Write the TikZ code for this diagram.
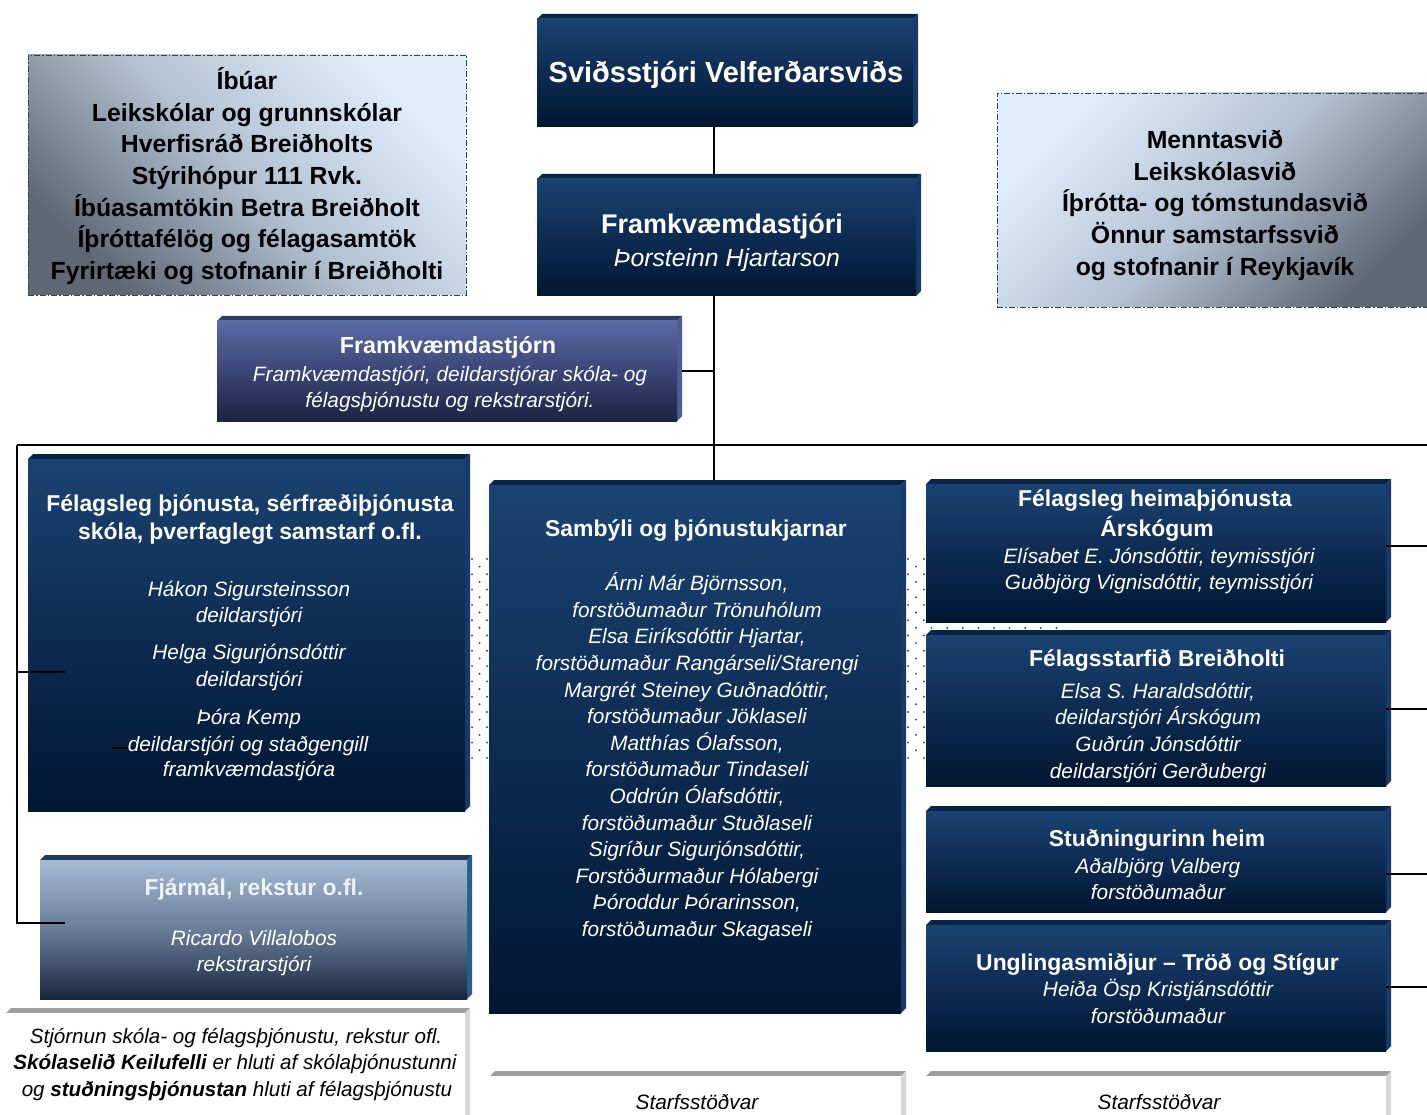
\documentclass[tikz,border=0pt]{standalone}
\usepackage{fontspec}
\setmainfont{Liberation Sans}
\definecolor{nvA}{HTML}{1A4372}
\definecolor{nvB}{HTML}{0E2B52}
\definecolor{nvC}{HTML}{001731}
\definecolor{nvT}{HTML}{0A2446}
\definecolor{nvR}{HTML}{163B6A}
\definecolor{pbA}{HTML}{5B6BA4}
\definecolor{pbB}{HTML}{3A4676}
\definecolor{pbC}{HTML}{1C2342}
\definecolor{pbT}{HTML}{2F3A66}
\definecolor{pbR}{HTML}{4C5C98}
\definecolor{gbA}{HTML}{A5BAD3}
\definecolor{gbB}{HTML}{6A7D98}
\definecolor{gbC}{HTML}{18263F}
\definecolor{gbT}{HTML}{1E3A5F}
\definecolor{gbR}{HTML}{2E5A8C}
\definecolor{grT}{HTML}{9E9E9E}
\definecolor{grR}{HTML}{D6D6D6}
\definecolor{glL}{HTML}{E0EDFC}
\definecolor{glM}{HTML}{B3C2D3}
\definecolor{glD}{HTML}{5F6773}
\definecolor{dotc}{HTML}{4A4A4A}
\definecolor{lighttxt}{HTML}{EEF3FA}
\newcommand\tln[1]{\smash{#1}\rule{0pt}{.72em}}
\newcommand\tdbox[6]{%
  \fill[#6T] (#2,#3+5) -- (#2+5,#3) -- (#4,#3) -- (#4-5,#3+5) -- cycle;
  \fill[#6R] (#4-5,#3+5) -- (#4,#3) -- (#4,#5-5) -- (#4-5,#5) -- cycle;
  \node[#6F, anchor=north west, inner sep=0pt, outer sep=0pt,
        minimum width={(#4-#2-5)*1pt}, minimum height={(#5-#3-5)*1pt}] (#1) at (#2,#3+5) {};
}
\tikzset{
  dkT/.style={fill=nvT}, dkR/.style={fill=nvR},
  dkF/.style={shade, top color=nvA, bottom color=nvC, middle color=nvB},
  fdT/.style={fill=pbT}, fdR/.style={fill=pbR},
  fdF/.style={shade, top color=pbA, bottom color=pbC, middle color=pbB},
  fjT/.style={fill=gbT}, fjR/.style={fill=gbR},
  fjF/.style={shade, top color=gbA, bottom color=gbC, middle color=gbB},
  whT/.style={fill=grT}, whR/.style={fill=grR},
  whF/.style={fill=white},
  glass/.style={draw=black!75, line width=0.9pt, dash pattern=on 6pt off 2pt on 1.5pt off 2pt,
     top color=glL, bottom color=glD, middle color=glM, anchor=north west, inner sep=0pt, outer sep=0pt},
  tx/.style={inner sep=0pt, outer sep=0pt, anchor=center},
  fB/.style={font=\bfseries\fontsize{#1}{#1}\selectfont},
  fI/.style={font=\itshape\fontsize{#1}{#1}\selectfont},
  con/.style={line width=1.4pt, black},
}
\begin{document}
\begin{tikzpicture}[x=1pt, y=-1pt]
\fill[white] (0,0) rectangle (1427,1115);
\useasboundingbox (0,0) rectangle (1427,1115);

% dotted bands
\foreach \k in {0,...,13} {
  \fill[dotc] (472,{559+15.3*\k}) circle[radius=1.1pt];
  \fill[dotc] (487,{559+15.3*\k}) circle[radius=1.1pt];
  \fill[dotc] (908,{559+15.3*\k}) circle[radius=1.1pt];
  \fill[dotc] (924,{559+15.3*\k}) circle[radius=1.1pt];
}
\foreach \k in {0,...,12} {
  \fill[dotc] (479.5,{566.6+15.3*\k}) circle[radius=1.1pt];
  \fill[dotc] (916,{566.6+15.3*\k}) circle[radius=1.1pt];
}
\foreach \k in {0,...,8} {
  \fill[dotc] ({931.6+15.6*\k},628) circle[radius=1.1pt];
}

% boxes
\tdbox{sv}{537}{14}{918}{127}{dk}
\tdbox{fr}{537}{174}{921}{296}{dk}
\tdbox{fd}{217}{316}{682}{421}{fd}
\tdbox{lb}{28}{454}{470}{811}{dk}
\tdbox{fj}{40}{855}{472}{999}{fj}
\tdbox{tb}{6}{1008}{470}{1125}{wh}
\tdbox{cb}{489}{480}{906}{1013}{dk}
\tdbox{sa}{490}{1071}{906}{1125}{wh}
\tdbox{ra}{926}{479}{1391}{622}{dk}
\tdbox{rb}{926}{630}{1391}{786}{dk}
\tdbox{rc}{926}{806}{1391}{912}{dk}
\tdbox{rd}{926}{920}{1391}{1051}{dk}
\tdbox{sb}{926}{1071}{1391}{1125}{wh}
\node[glass, shading angle=-45, minimum width=438pt, minimum height=240pt] (ib) at (28,55) {};
\node[glass, shading angle=45, minimum width=440pt, minimum height=214pt] (me) at (997,93) {};

% connectors
\coordinate (cx) at (714,0);
\coordinate (busL) at (17,445);
\coordinate (busR) at (1427,445);
\draw[con] (sv.south -| cx) -- ([yshift=5pt]fr.north -| cx);
\draw[con] (fr.south -| cx) -- ([yshift=5pt]cb.north -| cx);
\draw[con] ([xshift=5pt]fd.east) -- (fd.east -| cx);
\draw[con] (busL) -- (busR);
\coordinate (lst1) at (65,672);
\coordinate (lst2) at (65,923);
\draw[con] (busL) -- (busL |- lst2) -- (lst2);
\draw[con] (busL |- lst1) -- (lst1);
\coordinate (ws1) at (112,748);
\coordinate (ws2) at (152,748);
\draw[con] (ws1) -- (ws2);
\coordinate (rs1) at (1427,546);
\coordinate (rs2) at (1427,709);
\coordinate (rs3) at (1427,874);
\coordinate (rs4) at (1427,987);
\draw[con] (rs1 -| ra.east) -- (rs1);
\draw[con] (rs2 -| rb.east) -- (rs2);
\draw[con] (rs3 -| rc.east) -- (rs3);
\draw[con] (rs4 -| rd.east) -- (rs4);

% texts: top
\node[tx, fB=29, text=white] (sv1) at (726,72) {\tln{Sviðsstjóri Velferðarsviðs}};
\node[tx, fB=27, text=white] (fr1) at (722,224) {\tln{Framkvæmdastjóri}};
\node[tx, fI=24.8, text=white] (fr2) at (727,258) {\tln{Þorsteinn Hjartarson}};

\node[tx, fB=24.8] (ib1) at (247,80.5) {\tln{Íbúar}};
\node[tx, fB=24.8] (ib2) at (247,112.2) {\tln{Leikskólar og grunnskólar}};
\node[tx, fB=24.8] (ib3) at (247,143.9) {\tln{Hverfisráð Breiðholts}};
\node[tx, fB=24.8] (ib4) at (247,175.6) {\tln{Stýrihópur 111 Rvk.}};
\node[tx, fB=24.8] (ib5) at (247,207.3) {\tln{Íbúasamtökin Betra Breiðholt}};
\node[tx, fB=24.8] (ib6) at (247,239) {\tln{Íþróttafélög og félagasamtök}};
\node[tx, fB=24.8] (ib7) at (247,270.7) {\tln{Fyrirtæki og stofnanir í Breiðholti}};

\node[tx, fB=24.8] (me1) at (1215,139.4) {\tln{Menntasvið}};
\node[tx, fB=24.8] (me2) at (1215,171.1) {\tln{Leikskólasvið}};
\node[tx, fB=24.8] (me3) at (1215,202.8) {\tln{Íþrótta- og tómstundasvið}};
\node[tx, fB=24.8] (me4) at (1215,234.4) {\tln{Önnur samstarfssvið}};
\node[tx, fB=24.8] (me5) at (1215,266.1) {\tln{og stofnanir í Reykjavík}};

\node[tx, fB=23.3, text=white] (fd1) at (448,345) {\tln{Framkvæmdastjórn}};
\node[tx, fI=20.8, text=white] (fd2) at (450,374.2) {\tln{Framkvæmdastjóri, deildarstjórar skóla- og}};
\node[tx, fI=20.8, text=white] (fd3) at (450,399.8) {\tln{félagsþjónustu og rekstrarstjóri.}};

% left box
\node[tx, fB=22.9, text=white] (lb1) at (250,502.8) {\tln{Félagsleg þjónusta, sérfræðiþjónusta}};
\node[tx, fB=22.9, text=white] (lb2) at (250,531) {\tln{skóla, þverfaglegt samstarf o.fl.}};
\node[tx, fI=20.8, text=white] (lb3) at (249,589) {\tln{Hákon Sigursteinsson}};
\node[tx, fI=20.8, text=white] (lb4) at (249,615.5) {\tln{deildarstjóri}};
\node[tx, fI=20.8, text=white] (lb5) at (249,652.5) {\tln{Helga Sigurjónsdóttir}};
\node[tx, fI=20.8, text=white] (lb6) at (249,679) {\tln{deildarstjóri}};
\node[tx, fI=20.8, text=white] (lb7) at (249,717.5) {\tln{Þóra Kemp}};
\node[tx, fI=20.8, text=white] (lb8) at (248,744) {\tln{deildarstjóri og staðgengill}};
\node[tx, fI=20.8, text=white] (lb9) at (249,769.5) {\tln{framkvæmdastjóra}};

\node[tx, fB=22.9, text=lighttxt] (fj1) at (254,886.8) {\tln{Fjármál, rekstur o.fl.}};
\node[tx, fI=20.8, text=white] (fj2) at (254,938.5) {\tln{Ricardo Villalobos}};
\node[tx, fI=20.8, text=white] (fj3) at (254,964.2) {\tln{rekstrarstjóri}};

\node[tx, fI=20.6] (tb1) at (236,1035.9) {\tln{Stjórnun skóla- og félagsþjónustu, rekstur ofl.}};
\node[tx, fI=20.6] (tb2) at (235,1062.5) {\tln{\textbf{Skólaselið Keilufelli} er hluti af skólaþjónustunni}};
\node[tx, fI=20.6] (tb3) at (237,1089.2) {\tln{og \textbf{stuðningsþjónustan} hluti af félagsþjónustu}};

% center box
\node[tx, fB=22.9, text=white] (cb0) at (696,527.8) {\tln{Sambýli og þjónustukjarnar}};
\node[tx, fI=20.8, text=white] (cb1) at (697,583.2) {\tln{Árni Már Björnsson,}};
\node[tx, fI=20.8, text=white] (cb2) at (697,609.8) {\tln{forstöðumaður Trönuhólum}};
\node[tx, fI=20.8, text=white] (cb3) at (697,636.4) {\tln{Elsa Eiríksdóttir Hjartar,}};
\node[tx, fI=20.8, text=white] (cb4) at (697,663) {\tln{forstöðumaður Rangárseli/Starengi}};
\node[tx, fI=20.8, text=white] (cb5) at (697,689.6) {\tln{Margrét Steiney Guðnadóttir,}};
\node[tx, fI=20.8, text=white] (cb6) at (697,716.2) {\tln{forstöðumaður Jöklaseli}};
\node[tx, fI=20.8, text=white] (cb7) at (697,742.8) {\tln{Matthías Ólafsson,}};
\node[tx, fI=20.8, text=white] (cb8) at (697,769.4) {\tln{forstöðumaður Tindaseli}};
\node[tx, fI=20.8, text=white] (cb9) at (697,796) {\tln{Oddrún Ólafsdóttir,}};
\node[tx, fI=20.8, text=white] (cb10) at (697,822.6) {\tln{forstöðumaður Stuðlaseli}};
\node[tx, fI=20.8, text=white] (cb11) at (697,849.2) {\tln{Sigríður Sigurjónsdóttir,}};
\node[tx, fI=20.8, text=white] (cb12) at (697,875.8) {\tln{Forstöðurmaður Hólabergi}};
\node[tx, fI=20.8, text=white] (cb13) at (697,902.4) {\tln{Þóroddur Þórarinsson,}};
\node[tx, fI=20.8, text=white] (cb14) at (697,929) {\tln{forstöðumaður Skagaseli}};

\node[tx, fI=20.8] (sa1) at (697,1101.8) {\tln{Starfsstöðvar}};
\node[tx, fI=20.8] (sb1) at (1159,1101.8) {\tln{Starfsstöðvar}};

% right boxes
\node[tx, fB=22.9, text=white] (ra1) at (1155,498.5) {\tln{Félagsleg heimaþjónusta}};
\node[tx, fB=22.9, text=white] (ra2) at (1157,527.8) {\tln{Árskógum}};
\node[tx, fI=20.8, text=white] (ra3) at (1159,555.8) {\tln{Elísabet E. Jónsdóttir, teymisstjóri}};
\node[tx, fI=20.8, text=white] (ra4) at (1159,582.5) {\tln{Guðbjörg Vignisdóttir, teymisstjóri}};

\node[tx, fB=22.9, text=white] (rb1) at (1157,657.8) {\tln{Félagsstarfið Breiðholti}};
\node[tx, fI=20.8, text=white] (rb2) at (1158,690.8) {\tln{Elsa S. Haraldsdóttir,}};
\node[tx, fI=20.8, text=white] (rb3) at (1158,717.5) {\tln{deildarstjóri Árskógum}};
\node[tx, fI=20.8, text=white] (rb4) at (1158,744.2) {\tln{Guðrún Jónsdóttir}};
\node[tx, fI=20.8, text=white] (rb5) at (1158,770.8) {\tln{deildarstjóri Gerðubergi}};

\node[tx, fB=22.9, text=white] (rc1) at (1157,838.5) {\tln{Stuðningurinn heim}};
\node[tx, fI=20.8, text=white] (rc2) at (1158,865.8) {\tln{Aðalbjörg Valberg}};
\node[tx, fI=20.8, text=white] (rc3) at (1158,891.8) {\tln{forstöðumaður}};

\node[tx, fB=22.9, text=white] (rd1) at (1157.5,961.8) {\tln{Unglingasmiðjur – Tröð og Stígur}};
\node[tx, fI=20.8, text=white] (rd2) at (1158,989.2) {\tln{Heiða Ösp Kristjánsdóttir}};
\node[tx, fI=20.8, text=white] (rd3) at (1158,1015.8) {\tln{forstöðumaður}};
\end{tikzpicture}
\end{document}
